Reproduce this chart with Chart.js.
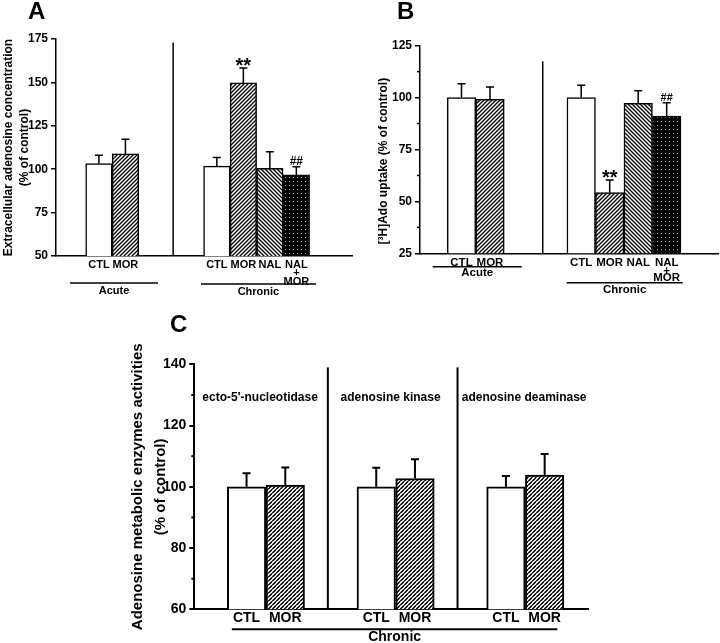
<!DOCTYPE html>
<html>
<head>
<meta charset="utf-8">
<script src="https://cdn.jsdelivr.net/npm/chart.js@4.4.1/dist/chart.umd.min.js"></script>
<style>
  html, body { margin: 0; padding: 0; background: #fff; }
  body { width: 720px; height: 643px; position: relative; overflow: hidden; }
  canvas { position: absolute; }
</style>
</head>
<body>
<canvas id="chartA" style="left:0;top:0" width="360" height="310"></canvas>
<canvas id="chartB" style="left:360px;top:0" width="360" height="310"></canvas>
<canvas id="chartC" style="left:120px;top:305px" width="480" height="338"></canvas>
<script>
// ---- data (% of control) ----
// A: extracellular adenosine
const aLabels = ['CTL', 'MOR', 'CTL', 'MOR', 'NAL', ['NAL', '+', 'MOR']];
const aPos = [1, 2, 5.45, 6.45, 7.45, 8.45];
const aMeans = [103.2, 108.8, 101.8, 149.7, 100.5, 96.7];
const aSem = [4.8, 8.4, 5.0, 8.6, 9.5, 4.7];
const aFills = ['white', 'fwd', 'white', 'fwd', 'back', 'dots'];

// B: [3H]Ado uptake
const bLabels = ['CTL', 'MOR', 'CTL', 'MOR', 'NAL', ['NAL', '+', 'MOR']];
const bPos = [1, 2, 5.2, 6.2, 7.2, 8.2];
const bMeans = [100, 99.2, 100, 54.2, 97.3, 91.1];
const bSem = [6.7, 5.9, 5.9, 6.1, 6.0, 6.4];
const bFills = ['white', 'fwd', 'white', 'fwd', 'back', 'dots'];

// C: metabolic enzymes (chronic)
const cLabels = ['CTL', 'MOR', 'CTL', 'MOR', 'CTL', 'MOR'];
const cPos = [1, 2, 4.35, 5.35, 7.7, 8.7];
const cMeans = [100, 100.6, 100, 102.7, 100, 103.8];
const cSem = [4.4, 5.7, 6.2, 6.3, 3.5, 6.9];
const cFills = ['white', 'fwd', 'white', 'fwd', 'white', 'fwd'];
const cEnzymes = ['ecto-5\'-nucleotidase', 'adenosine kinase', 'adenosine deaminase'];

const FONT = '"Liberation Sans", Arial, sans-serif';
Chart.defaults.font.family = FONT;
Chart.defaults.font.weight = 'bold';
Chart.defaults.color = '#000';

// hatch / dot fills
function makeFill(kind, size, lw) {
    if (kind === 'white') return '#fff';
    const c = document.createElement('canvas');
    c.width = c.height = size;
    const g = c.getContext('2d');
    g.fillStyle = kind === 'dots' ? '#000' : '#fff';
    g.fillRect(0, 0, size, size);
    if (kind === 'dots') {
        g.fillStyle = '#aaa';
        g.fillRect(1, 1, 1, 1);
    } else {
        g.strokeStyle = '#000';
        g.lineWidth = lw;
        g.beginPath();
        if (kind === 'fwd') { // "/"
            g.moveTo(-1, size + 1); g.lineTo(size + 1, -1);
            g.moveTo(-1, 1); g.lineTo(1, -1);
            g.moveTo(size - 1, size + 1); g.lineTo(size + 1, size - 1);
        } else { // "\"
            g.moveTo(-1, -1); g.lineTo(size + 1, size + 1);
            g.moveTo(size - 1, -1); g.lineTo(size + 1, 1);
            g.moveTo(-1, size - 1); g.lineTo(1, size + 1);
        }
        g.stroke();
    }
    return g.createPattern(c, 'repeat');
}

// error bars, separators, group captions, marks, panel letter
const decor = {
    id: 'decor',
    afterDatasetsDraw(chart, args, o) {
        const { ctx, chartArea: area } = chart;
        const x = chart.scales.x, y = chart.scales.y;
        const bars = chart.getDatasetMeta(0).data;
        ctx.save();
        ctx.strokeStyle = '#000';
        ctx.fillStyle = '#000';
        ctx.lineWidth = o.lineWidth;

        bars.forEach((b, i) => {
            const top = y.getPixelForValue(o.means[i] + o.sem[i]);
            ctx.beginPath();
            ctx.moveTo(b.x, b.y);
            ctx.lineTo(b.x, top);
            ctx.moveTo(b.x - o.cap, top);
            ctx.lineTo(b.x + o.cap, top);
            ctx.stroke();
        });

        o.seps.forEach(s => {
            const px = x.getPixelForValue(s.at);
            ctx.beginPath();
            ctx.moveTo(px, y.getPixelForValue(s.top));
            ctx.lineTo(px, area.bottom);
            ctx.stroke();
        });

        (o.minor || []).forEach(v => {
            const py = y.getPixelForValue(v);
            ctx.beginPath();
            ctx.moveTo(area.left - 3, py);
            ctx.lineTo(area.left, py);
            ctx.stroke();
        });

        ctx.textAlign = 'center';
        ctx.textBaseline = 'middle';
        o.groups.forEach(g => {
            const x0 = x.getPixelForValue(g.from), x1 = x.getPixelForValue(g.to);
            ctx.beginPath();
            ctx.moveTo(x0, area.bottom + g.line);
            ctx.lineTo(x1, area.bottom + g.line);
            ctx.stroke();
            ctx.font = o.groupFont;
            ctx.fillText(g.text, (x0 + x1) / 2, area.bottom + g.label);
        });

        (o.titles || []).forEach(t => {
            ctx.font = o.titleFont;
            ctx.fillText(t.text, x.getPixelForValue(t.at), y.getPixelForValue(t.y));
        });

        ctx.textBaseline = 'alphabetic';
        (o.marks || []).forEach(m => {
            const b = bars[m.bar];
            ctx.font = m.font;
            ctx.fillText(m.text, b.x, y.getPixelForValue(o.means[m.bar] + o.sem[m.bar]) + m.dy);
        });

        ctx.textAlign = 'left';
        ctx.font = 'bold 24px ' + FONT;
        ctx.fillText(o.letter.text, o.letter.x, o.letter.y);
        ctx.restore();
    }
};

function makePanel(id, p) {
    const fills = p.fills.map(k => makeFill(k, p.hatch, p.hatchWidth));
    return new Chart(document.getElementById(id), {
        type: 'bar',
        data: {
            datasets: [{
                data: p.pos.map((v, i) => ({ x: v, y: p.means[i] })),
                backgroundColor: fills,
                borderColor: '#000',
                borderWidth: p.lineWidth,
                barThickness: p.barWidth
            }]
        },
        options: {
            responsive: false,
            animation: false,
            layout: { padding: p.padding },
            plugins: {
                legend: { display: false },
                tooltip: { enabled: false },
                decor: p.decor
            },
            scales: {
                x: {
                    type: 'linear',
                    offset: false,
                    min: p.xMin,
                    max: p.xMax,
                    afterBuildTicks: s => { s.ticks = p.pos.map(v => ({ value: v })); },
                    ticks: {
                        autoSkip: false,
                        maxRotation: 0,
                        padding: p.xPad,
                        font: { size: p.xFont, lineHeight: p.xLine },
                        callback: (v, i) => p.labels[i]
                    },
                    grid: { display: false },
                    border: { color: '#000', width: p.lineWidth },
                    afterFit: s => { s.height = p.xHeight; }
                },
                y: {
                    min: p.yMin,
                    max: p.yMax,
                    ticks: { stepSize: p.yStep, padding: 3, font: { size: p.yFont } },
                    grid: { drawOnChartArea: false, color: '#000', lineWidth: p.lineWidth, tickLength: 5 },
                    border: { color: '#000', width: p.lineWidth },
                    title: {
                        display: true,
                        text: p.yTitle,
                        padding: { top: p.titlePad, bottom: 0 },
                        font: { size: p.titleSize, lineHeight: p.titleLine }
                    },
                    afterFit: s => { s.width = p.yWidth; }
                }
            }
        },
        plugins: [decor]
    });
}

makePanel('chartA', {
    labels: aLabels, pos: aPos, means: aMeans, fills: aFills,
    hatch: 4, hatchWidth: 1.3, lineWidth: 1.5, barWidth: 26.5,
    padding: { top: 39, right: 8, left: 0, bottom: 0 },
    xMin: -0.62, xMax: 10.55, xPad: -3, xFont: 11, xLine: 0.75, xHeight: 54,
    yMin: 50, yMax: 175, yStep: 25, yFont: 12, yWidth: 56,
    yTitle: ['Extracellular adenosine concentration', '(% of control)'],
    titlePad: 0, titleSize: 12, titleLine: 1.375,
    decor: {
        means: aMeans, sem: aSem, lineWidth: 1.5, cap: 4,
        seps: [{ at: 3.8, top: 173 }],
        groups: [
            { from: -0.09, to: 3.23, text: 'Acute', line: 27, label: 35 },
            { from: 4.85, to: 9.19, text: 'Chronic', line: 28, label: 36 }
        ],
        groupFont: 'bold 11px ' + FONT,
        marks: [
            { bar: 3, text: '**', font: 'bold 20px ' + FONT, dy: 4.5 },
            { bar: 5, text: '##', font: 'bold 12px ' + FONT, dy: -1.5 }
        ],
        letter: { text: 'A', x: 28, y: 19 }
    }
});

makePanel('chartB', {
    labels: bLabels, pos: bPos, means: bMeans, fills: bFills,
    hatch: 4, hatchWidth: 1.3, lineWidth: 1.5, barWidth: 28.5,
    padding: { top: 45.7, right: 2, left: 0, bottom: 0 },
    xMin: -0.456, xMax: 10.0, xPad: -2.5, xFont: 11.5, xLine: 0.67, xHeight: 56.7,
    yMin: 25, yMax: 125, yStep: 25, yFont: 12, yWidth: 60,
    yTitle: '[\u00B3H]Ado uptake (% of control)       ',
    titlePad: 16.8, titleSize: 12, titleLine: 1.2,
    decor: {
        means: bMeans, sem: bSem, lineWidth: 1.5, cap: 4,
        minor: [37.5, 62.5, 87.5, 112.5],
        seps: [{ at: 3.85, top: 117.5 }],
        groups: [
            { from: -0.01, to: 3.11, text: 'Acute', line: 13.4, label: 20 },
            { from: 4.69, to: 8.76, text: 'Chronic', line: 29.4, label: 37 }
        ],
        groupFont: 'bold 11.5px ' + FONT,
        marks: [
            { bar: 3, text: '**', font: 'bold 20px ' + FONT, dy: 4.3 },
            { bar: 5, text: '##', font: 'bold 11px ' + FONT, dy: -2 }
        ],
        letter: { text: 'B', x: 37, y: 18.5 }
    }
});

makePanel('chartC', {
    labels: cLabels, pos: cPos, means: cMeans, fills: cFills,
    hatch: 4.5, hatchWidth: 1.5, lineWidth: 2, barWidth: 38.5,
    padding: { top: 59.3, right: 12, left: 0, bottom: 0 },
    xMin: -0.35, xMax: 9.82, xPad: -6.6, xFont: 14, xLine: 1, xHeight: 33.7,
    yMin: 60, yMax: 140, yStep: 20, yFont: 14, yWidth: 74.3,
    yTitle: ['Adenosine metabolic enzymes activities', '(% of control)'],
    titlePad: 6.75, titleSize: 15, titleLine: 1.5,
    decor: {
        means: cMeans, sem: cSem, lineWidth: 2, cap: 4,
        minor: [70, 90, 110, 130],
        seps: [{ at: 3.1, top: 139 }, { at: 6.45, top: 139 }],
        groups: [
            { from: 0.62, to: 9.03, text: 'Chronic', line: 20, label: 28 }
        ],
        groupFont: 'bold 14px ' + FONT,
        titles: [
            { text: cEnzymes[0], at: 1.35, y: 129.2 },
            { text: cEnzymes[1], at: 4.72, y: 129.2 },
            { text: cEnzymes[2], at: 8.17, y: 129.2 }
        ],
        titleFont: 'bold 12px ' + FONT,
        letter: { text: 'C', x: 50, y: 27 }
    }
});
</script>
</body>
</html>
